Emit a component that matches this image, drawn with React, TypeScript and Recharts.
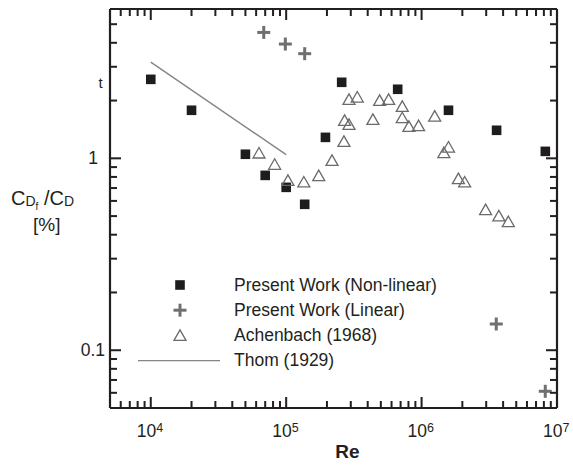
import { Label, Legend, Scatter, ScatterChart, XAxis, YAxis } from 'recharts';

const FONT = '"Liberation Sans", Arial, Helvetica, sans-serif';
const INK = '#231f20';
const SQUARE_FILL = '#1e1c1d';
const CROSS_COLOR = '#707070';
const TRIANGLE_COLOR = '#6a6a6a';
const THOM_COLOR = '#858585';

// Series names, used for the legend rows as well
const NON_LINEAR = 'Present Work (Non-linear)';
const LINEAR = 'Present Work (Linear)';
const ACHENBACH = 'Achenbach (1968)';
const THOM = 'Thom (1929)';

// Present work, non-linear model
const nonLinearRe = [1e4, 2e4, 5e4, 7e4, 1e5, 1.37e5, 1.95e5, 2.57e5, 6.66e5, 1.58e6, 3.58e6, 8.2e6];
const nonLinearRatio = [2.58, 1.78, 1.05, 0.815, 0.706, 0.576, 1.286, 2.49, 2.29, 1.78, 1.4, 1.087];

// Present work, linear model
const linearRe = [6.83e4, 9.86e4, 1.37e5, 3.56e6, 8.19e6];
const linearRatio = [4.53, 3.94, 3.51, 0.137, 0.0611];

// Achenbach (1968) measurements
const achenbachRe = [
  6.3e4, 8.22e4, 1.03e5, 1.35e5, 1.74e5, 2.18e5, 2.67e5, 2.7e5, 2.91e5, 2.91e5, 3.35e5, 4.37e5, 4.9e5,
  5.71e5, 7.2e5, 7.2e5, 8.06e5, 9.5e5, 1.25e6, 1.46e6, 1.58e6, 1.87e6, 2.08e6, 2.97e6, 3.72e6, 4.37e6,
];
const achenbachRatio = [
  1.066, 0.931, 0.768, 0.753, 0.813, 0.976, 1.226, 1.578, 1.503, 2.03, 2.086, 1.596, 2.005,
  2.03, 1.866, 1.628, 1.468, 1.48, 1.66, 1.071, 1.145, 0.784, 0.753, 0.54, 0.501, 0.468,
];

// Thom (1929) correlation
const thomRe = [1e4, 1e5];
const thomRatio = [3.17, 1.045];

// Log axis ticks
const X_DOMAIN = [5000, 1e7];
const X_MAJOR = [1e4, 1e5, 1e6, 1e7];
const X_TICKS = [
  6e3, 7e3, 8e3, 9e3, 1e4, 2e4, 3e4, 4e4, 5e4, 6e4, 7e4, 8e4, 9e4, 1e5, 2e5, 3e5, 4e5, 5e5, 6e5, 7e5,
  8e5, 9e5, 1e6, 2e6, 3e6, 4e6, 5e6, 6e6, 7e6, 8e6, 9e6, 1e7,
];
const Y_DOMAIN = [0.05, 6];
const Y_MAJOR = [0.1, 1];
const Y_TICKS = [0.06, 0.07, 0.08, 0.09, 0.1, 0.2, 0.3, 0.4, 0.5, 0.6, 0.7, 0.8, 0.9, 1, 2, 3, 4, 5];
const Y_TICK_LABELS = ['0.1', '1'];

const zip = (re: number[], ratio: number[]) => re.map((r, i) => ({ re: r, ratio: ratio[i] }));

const nonLinear = zip(nonLinearRe, nonLinearRatio);
const linear = zip(linearRe, linearRatio);
const achenbach = zip(achenbachRe, achenbachRatio);
const thom = zip(thomRe, thomRatio);

const MAJOR_LEN = 11;
const MINOR_LEN = 7;
const TICK_W = 2;

function SquareMark({ cx, cy }: any) {
  return <rect x={cx - 4.8} y={cy - 4.8} width={9.6} height={9.6} fill={SQUARE_FILL} />;
}

function CrossMark({ cx, cy }: any) {
  return (
    <g stroke={CROSS_COLOR} strokeWidth={3}>
      <line x1={cx - 6.5} y1={cy} x2={cx + 6.5} y2={cy} />
      <line x1={cx} y1={cy - 6.5} x2={cx} y2={cy + 6.5} />
    </g>
  );
}

function TriangleMark({ cx, cy }: any) {
  return (
    <polygon
      points={`${cx},${cy - 5.5} ${cx + 6},${cy + 5} ${cx - 6},${cy + 5}`}
      fill="none"
      stroke={TRIANGLE_COLOR}
      strokeWidth={1.3}
    />
  );
}

const NoMark = () => <g />;

// inward tick marks, drawn as thin filled bars
const vTick = (x: number, y: number, len: number) => (
  <rect x={x - TICK_W / 2} y={Math.min(y, y + len)} width={TICK_W} height={Math.abs(len)} fill={INK} />
);
const hTick = (x: number, y: number, len: number) => (
  <rect x={Math.min(x, x + len)} y={y - TICK_W / 2} width={Math.abs(len)} height={TICK_W} fill={INK} />
);

function BottomTick({ x, y, payload }: any) {
  const major = X_MAJOR.includes(payload.value);
  const exp = Math.round(Math.log10(payload.value));
  return (
    <g>
      {vTick(x, y, -(major ? MAJOR_LEN : MINOR_LEN))}
      {major && (
        <text x={x - 14} y={y + 29} fontSize={17.5} fontFamily={FONT} fill={INK}>
          <tspan>10</tspan>
          <tspan dy={-5} fontSize={12.5}>{exp}</tspan>
        </text>
      )}
    </g>
  );
}

function TopTick({ x, y, payload }: any) {
  const major = X_MAJOR.includes(payload.value);
  return <g>{vTick(x, y, major ? MAJOR_LEN : MINOR_LEN)}</g>;
}

function LeftTick({ x, y, payload }: any) {
  const idx = Y_MAJOR.indexOf(payload.value);
  const major = idx >= 0;
  return (
    <g>
      {hTick(x, y, major ? MAJOR_LEN : MINOR_LEN)}
      {major && (
        <text
          x={x - (payload.value < 1 ? 5 : 12)}
          y={y + 6}
          textAnchor="end"
          fontSize={17.5}
          fontFamily={FONT}
          fill={INK}
        >
          {Y_TICK_LABELS[idx]}
        </text>
      )}
    </g>
  );
}

function RightTick({ x, y, payload }: any) {
  const major = Y_MAJOR.includes(payload.value);
  return <g>{hTick(x, y, -(major ? MAJOR_LEN : MINOR_LEN))}</g>;
}

function XTitle({ viewBox }: any) {
  const { x, y, width } = viewBox;
  return (
    <text x={x + width / 2 + 14} y={y + 50} textAnchor="middle" fontSize={19} fontWeight="bold" fontFamily={FONT} fill={INK}>
      Re
    </text>
  );
}

function YTitle({ viewBox }: any) {
  const { x, y } = viewBox;
  return (
    <g fontFamily={FONT} fill={INK}>
      <text x={x + 11} y={y + 196} fontSize={20}>
        <tspan>C</tspan>
        <tspan fontSize={14} dy={1}>D</tspan>
        <tspan fontSize={10} dy={4}>f</tspan>
        <tspan fontSize={20} dy={-5}> /C</tspan>
        <tspan fontSize={14} dy={1}>D</tspan>
      </text>
      <text x={x + 33} y={y + 222} fontSize={19}>[%]</text>
      <text x={x + 100.5} y={y + 79} textAnchor="middle" fontSize={15}>t</text>
    </g>
  );
}

function LegendIcon({ name, cx, cy }: { name: string; cx: number; cy: number }) {
  if (name === NON_LINEAR) return <SquareMark cx={cx} cy={cy} />;
  if (name === LINEAR) return <CrossMark cx={cx} cy={cy} />;
  if (name === ACHENBACH) return <TriangleMark cx={cx} cy={cy} />;
  return <line x1={cx - 42} y1={cy} x2={cx + 40} y2={cy} stroke={THOM_COLOR} strokeWidth={1.4} />;
}

const LEGEND_ORDER = [NON_LINEAR, LINEAR, ACHENBACH, THOM];

function LegendBox({ payload }: any) {
  const names = (payload ?? []).map((p: any) => p.value);
  const rows = LEGEND_ORDER.filter((n) => names.includes(n));
  return (
    <svg width={330} height={105} style={{ display: 'block', overflow: 'visible' }}>
      {rows.map((name, i) => {
        const cy = 15 + i * 25.2;
        return (
          <g key={name}>
            <LegendIcon name={name} cx={50} cy={cy} />
            <text x={104} y={cy + 5.5} fontSize={17.5} fontFamily={FONT} fill={INK}>
              {name}
            </text>
          </g>
        );
      })}
    </svg>
  );
}

const axisLine = { stroke: INK, strokeWidth: 2.2 };

export default function App() {
  return (
    <div style={{ position: 'absolute', left: 0, top: 0, background: '#fff' }}>
      <ScatterChart width={573} height={465} margin={{ top: 0, right: 0, bottom: 0, left: 0 }}>
        <XAxis
          dataKey="re"
          type="number"
          scale="log"
          domain={X_DOMAIN}
          allowDataOverflow
          ticks={X_TICKS}
          interval={0}
          height={57}
          tickSize={0}
          tickMargin={0}
          tickLine={false}
          axisLine={axisLine}
          tick={BottomTick}
        >
          <Label content={XTitle} />
        </XAxis>
        <XAxis
          xAxisId="top"
          orientation="top"
          dataKey="re"
          type="number"
          scale="log"
          domain={X_DOMAIN}
          allowDataOverflow
          ticks={X_TICKS}
          interval={0}
          height={9}
          tickSize={0}
          tickMargin={0}
          tickLine={false}
          axisLine={axisLine}
          tick={TopTick}
        />
        <YAxis
          dataKey="ratio"
          type="number"
          scale="log"
          domain={Y_DOMAIN}
          allowDataOverflow
          ticks={Y_TICKS}
          interval={0}
          width={110}
          tickSize={0}
          tickMargin={0}
          tickLine={false}
          axisLine={axisLine}
          tick={LeftTick}
        >
          <Label content={YTitle} />
        </YAxis>
        <YAxis
          yAxisId="right"
          orientation="right"
          dataKey="ratio"
          type="number"
          scale="log"
          domain={Y_DOMAIN}
          allowDataOverflow
          ticks={Y_TICKS}
          interval={0}
          width={16}
          tickSize={0}
          tickMargin={0}
          tickLine={false}
          axisLine={axisLine}
          tick={RightTick}
        />
        <Scatter
          name={THOM}
          data={thom}
          shape={NoMark}
          line={{ stroke: THOM_COLOR, strokeWidth: 1.4 }}
          isAnimationActive={false}
        />
        {/* invisible copy bound to the top/right axes so the frame is drawn on all four sides */}
        <Scatter
          data={thom}
          xAxisId="top"
          yAxisId="right"
          shape={NoMark}
          legendType="none"
          isAnimationActive={false}
        />
        <Scatter name={NON_LINEAR} data={nonLinear} shape={SquareMark} isAnimationActive={false} />
        <Scatter name={LINEAR} data={linear} shape={CrossMark} isAnimationActive={false} />
        <Scatter name={ACHENBACH} data={achenbach} shape={TriangleMark} isAnimationActive={false} />
        <Legend
          layout="vertical"
          align="center"
          verticalAlign="middle"
          content={LegendBox}
          wrapperStyle={{ position: 'absolute', left: 130, top: 270, width: 330, height: 105 }}
        />
      </ScatterChart>
    </div>
  );
}
